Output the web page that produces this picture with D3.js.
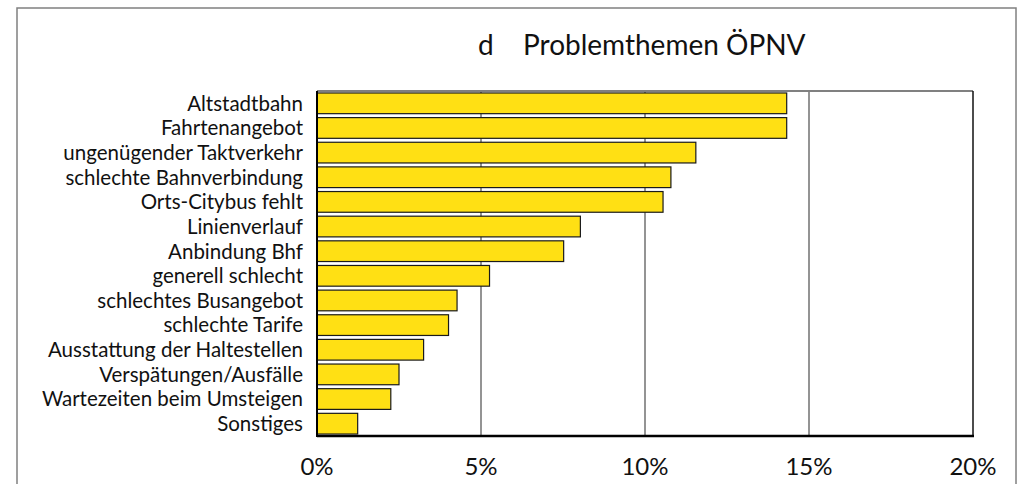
<!DOCTYPE html>
<html>
<head>
<meta charset="utf-8">
<script src="https://cdn.jsdelivr.net/npm/d3@7"></script>
<style>
  body { margin: 0; background: #fff; }
  svg text { font-family: Lato, "Open Sans", sans-serif; fill: #111; }
</style>
</head>
<body>
<script>
/** chart data */
const categories = ["Altstadtbahn", "Fahrtenangebot", "ungenügender Taktverkehr", "schlechte Bahnverbindung",
    "Orts-Citybus fehlt", "Linienverlauf", "Anbindung Bhf", "generell schlecht", "schlechtes Busangebot",
    "schlechte Tarife", "Ausstattung der Haltestellen", "Verspätungen/Ausfälle", "Wartezeiten beim Umsteigen", "Sonstiges"];
const values = [14.32, 14.32, 11.55, 10.79, 10.55, 8.03, 7.52, 5.26, 4.27, 4.01, 3.25, 2.5, 2.25, 1.24];
const ticks = [0, 5, 10, 15, 20];
const title = "Problemthemen ÖPNV";

const width = 1017;
const height = 484;
const plot = { left: 317, right: 973, top: 91, bottom: 436 };

var svg = d3.select("body").append("svg")
    .attr("width", width)
    .attr("height", height);

// outer frame
svg.append("rect")
    .attr("x", 17).attr("y", 8)
    .attr("width", 999).attr("height", 500)
    .attr("fill", "none")
    .attr("stroke", "#808080")
    .attr("stroke-width", 1.5);

var x_scale = d3.scaleLinear().domain([0, 20]).range([plot.left, plot.right]);
var y_scale = d3.scaleBand().domain(categories).range([plot.top, plot.bottom]).paddingInner(0.16).paddingOuter(0.08);

// title
svg.append("text")
    .attr("x", 478).attr("y", 55)
    .attr("font-size", 28)
    .text("d");
svg.append("text")
    .attr("x", 523).attr("y", 55)
    .attr("font-size", 28)
    .text(title);

// grid lines
svg.append("g").selectAll("line")
    .data(ticks.slice(1, -1))
    .enter().append("line")
    .attr("x1", d => x_scale(d)).attr("x2", d => x_scale(d))
    .attr("y1", plot.top).attr("y2", plot.bottom)
    .attr("stroke", "#707070")
    .attr("stroke-width", 1.5);

// plot frame: gray top, black right
svg.append("line")
    .attr("x1", plot.left).attr("x2", plot.right)
    .attr("y1", plot.top).attr("y2", plot.top)
    .attr("stroke", "#808080").attr("stroke-width", 2);
svg.append("line")
    .attr("x1", plot.right).attr("x2", plot.right)
    .attr("y1", plot.top).attr("y2", plot.bottom)
    .attr("stroke", "#111").attr("stroke-width", 1.5);

// bars
var rows = categories.map((c, i) => ({ name: c, value: values[i] }));
svg.append("g").selectAll("rect")
    .data(rows)
    .enter().append("rect")
    .attr("x", x_scale(0))
    .attr("y", d => y_scale(d.name))
    .attr("width", d => x_scale(d.value) - x_scale(0))
    .attr("height", y_scale.bandwidth())
    .attr("fill", "#ffe014")
    .attr("stroke", "#1a1a1a")
    .attr("stroke-width", 1.2);

// category labels
svg.append("g").selectAll("text")
    .data(categories)
    .enter().append("text")
    .attr("x", 303)
    .attr("y", d => y_scale(d) + y_scale.bandwidth() / 2)
    .attr("dy", "0.36em")
    .attr("text-anchor", "end")
    .attr("font-size", 20.5)
    .text(d => d);

// axes lines (left and bottom, black)
svg.append("line")
    .attr("x1", plot.left).attr("x2", plot.left)
    .attr("y1", plot.top).attr("y2", plot.bottom + 1)
    .attr("stroke", "#000").attr("stroke-width", 2);
svg.append("line")
    .attr("x1", plot.left).attr("x2", plot.right + 1)
    .attr("y1", plot.bottom).attr("y2", plot.bottom)
    .attr("stroke", "#000").attr("stroke-width", 2.5);

// x tick labels
svg.append("g").selectAll("text")
    .data(ticks)
    .enter().append("text")
    .attr("x", d => x_scale(d))
    .attr("y", 475)
    .attr("text-anchor", "middle")
    .attr("font-size", 24)
    .text(d => d + "%");
</script>
</body>
</html>
